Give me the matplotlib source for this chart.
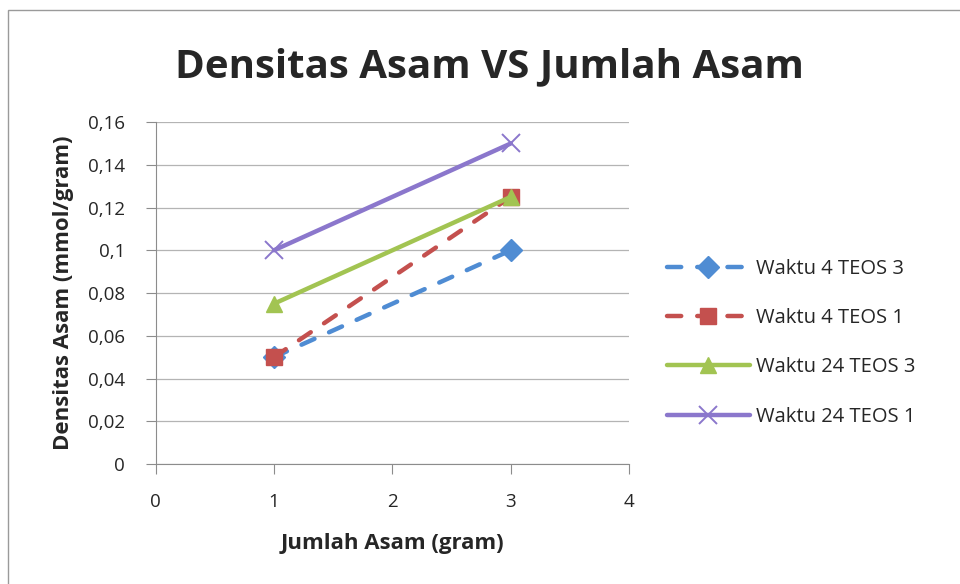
import matplotlib
matplotlib.use("Agg")
import matplotlib.pyplot as plt
from matplotlib.patches import Rectangle
from matplotlib.ticker import FuncFormatter

# DATA
# -----------------------------------------------
jumlah_asam = [1, 3]
waktu4_teos3 = [0.05, 0.10]
waktu4_teos1 = [0.05, 0.125]
waktu24_teos3 = [0.075, 0.125]
waktu24_teos1 = [0.10, 0.15]

series_labels = ["Waktu 4 TEOS 3", "Waktu 4 TEOS 1", "Waktu 24 TEOS 3", "Waktu 24 TEOS 1"]
y_ticks = [0, 0.02, 0.04, 0.06, 0.08, 0.1, 0.12, 0.14, 0.16]
x_ticks = [0, 1, 2, 3, 4]

# PLOTTING
# -----------------------------------------------
plt.rcParams["font.family"] = ["Open Sans", "DejaVu Sans"]

fig = plt.figure(figsize=(9.6, 5.84), dpi=100)
ax = fig.add_axes([0.162, 0.2055, 0.4935, 0.5855])

# thin chart frame
fig.patches.append(Rectangle((0.008, -0.01), 1.0, 0.993, transform=fig.transFigure,
                             fill=False, edgecolor="#9a9a9a", linewidth=1.0))

dash = (0, (3.2, 3.6))
styles = [
    (waktu4_teos3, "#4F8CD3", dash, "D", 11),
    (waktu4_teos1, "#C4504E", dash, "s", 12),
    (waktu24_teos3, "#A2C452", "-", "^", 12),
    (waktu24_teos1, "#8B77CC", "-", "x", 13),
]
for (vals, color, ls, mk, ms), label in zip(styles, series_labels):
    ax.plot(jumlah_asam, vals, color=color, linestyle=ls, linewidth=3.2,
            marker=mk, markersize=ms, markeredgewidth=1.4 if mk == "x" else 1,
            markeredgecolor=color, label=label, solid_capstyle="round",
            dash_capstyle="round")

ax.set_xlim(0, 4)
ax.set_ylim(0, 0.16)
ax.set_xticks(x_ticks)
ax.set_yticks(y_ticks)
ax.yaxis.set_major_formatter(FuncFormatter(lambda v, p: ("%g" % round(v, 2)).replace(".", ",")))
ax.grid(axis="y", color="#b4b4b4", linewidth=0.9)
ax.set_axisbelow(True)
for side in ["top", "right"]:
    ax.spines[side].set_visible(False)
for side in ["left", "bottom"]:
    ax.spines[side].set_color("#8c8c8c")
ax.tick_params(direction="out", length=7, color="#8c8c8c", labelsize=13.5, labelcolor="#262626")
ax.tick_params(axis="y", pad=15)
ax.tick_params(axis="x", pad=14)

fig.text(0.51, 0.886, "Densitas Asam VS Jumlah Asam", fontsize=29, fontweight="bold",
         color="#262626", ha="center", va="center")
ax.set_xlabel("Jumlah Asam (gram)", fontsize=16, fontweight="bold", labelpad=16, color="#262626")
ax.set_ylabel("Densitas Asam (mmol/gram)", fontsize=16, fontweight="bold", labelpad=10, color="#262626")

ax.legend(loc="center left", bbox_to_anchor=(0.695, 0.413), bbox_transform=fig.transFigure,
          frameon=False, fontsize=14.5, handlelength=4.1, labelspacing=1.45,
          handletextpad=0.3, borderpad=0, borderaxespad=0, labelcolor="#262626")

fig.savefig("out.png", dpi=100)
